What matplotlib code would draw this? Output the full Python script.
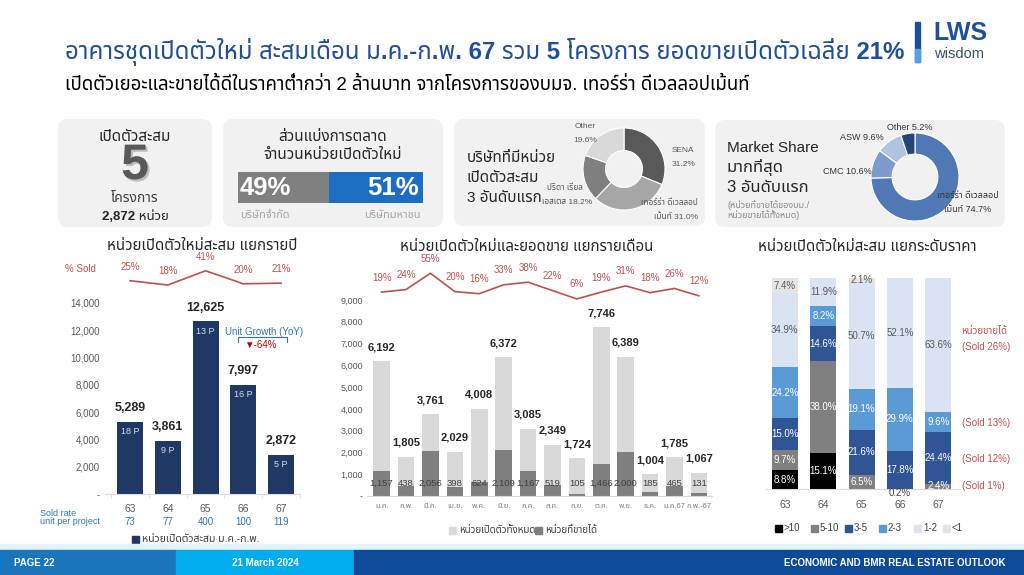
import numpy as np
import matplotlib
matplotlib.use('Agg')
import matplotlib.pyplot as plt
import matplotlib.patheffects as pe
from matplotlib import font_manager
from matplotlib.ft2font import FT2Font
from matplotlib.patches import FancyBboxPatch, Rectangle


def pick_thai_font():
    names = set()
    for f in font_manager.fontManager.ttflist:
        try:
            cmap = FT2Font(f.fname).get_charmap()
        except Exception:
            continue
        if 0x0E01 in cmap and 0x0E48 in cmap:
            names.add(f.name)
    for pref in ['Noto Sans Thai', 'Noto Sans Thai UI', 'Anuphan', 'Sarabun', 'Kanit', 'Prompt']:
        if pref in names:
            return pref
    return sorted(names)[0] if names else 'DejaVu Sans'


THAI = pick_thai_font()
FAM = ['Liberation Sans', THAI, 'DejaVu Sans']
plt.rcParams['font.family'] = FAM

# ---------------- data ----------------
years = ['63', '64', '65', '66', '67']
units_year = [5289, 3861, 12625, 7997, 2872]
projects_year = [18, 9, 13, 16, 5]
sold_pct_year = [25, 18, 41, 20, 21]
unit_per_project = [73, 77, 400, 100, 119]

months = ['ม.ค.', 'ก.พ.', 'มี.ค.', 'เม.ย.', 'พ.ค.', 'มิ.ย.', 'ก.ค.', 'ส.ค.', 'ก.ย.', 'ต.ค.',
          'พ.ย.', 'ธ.ค.', 'ม.ค.67', 'ก.พ.-67']
total_month = [6192, 1805, 3761, 2029, 4008, 6372, 3085, 2349, 1724, 7746, 6389, 1004, 1785, 1067]
sold_month = [1157, 438, 2056, 398, 624, 2109, 1167, 519, 105, 1466, 2000, 185, 465, 131]
sold_pct_month = [19, 24, 55, 20, 16, 33, 38, 22, 6, 19, 31, 18, 26, 12]

price_bands = ['>10', '5-10', '3-5', '2-3', '1-2', '<1']
share_gt10 = [8.8, 15.1, 0, 0, 0]
share_5_10 = [9.7, 38.0, 6.5, 0.2, 2.4]
share_3_5 = [15.0, 14.6, 21.6, 17.8, 24.4]
share_2_3 = [24.2, 8.2, 19.1, 29.9, 9.6]
share_1_2 = [34.9, 11.9, 50.7, 52.1, 63.6]
share_lt1 = [7.4, 0, 2.1, 0, 0]
sold_notes = ['หน่วยขายได้', '(Sold 26%)', '(Sold 13%)', '(Sold 12%)', '(Sold 1%)']

dev_names = ['SENA', 'เทอร์ร่า ดีเวลลอป', 'ปริดา เรียล', 'Other']
dev_share = [31.2, 31.0, 18.2, 19.6]
ms_names = ['เทอร์ร่า ดีเวลลอป', 'CMC', 'ASW', 'Other']
ms_share = [74.7, 10.6, 9.6, 5.2]
company_type = ['บริษัทจำกัด', 'บริษัทมหาชน']
company_share = [49, 51]

W, H = 1024, 575
fig = plt.figure(figsize=(W / 100, H / 100), dpi=100)
fig.patch.set_facecolor('white')


def px_axes(x0, y0, x1, y1):
    return fig.add_axes([x0 / W, 1 - y1 / H, (x1 - x0) / W, (y1 - y0) / H])


bg = fig.add_axes([0, 0, 1, 1])
bg.set_xlim(0, W)
bg.set_ylim(H, 0)
bg.axis('off')

BLUE_T = '#1F4E9A'
RED = '#C0504D'
TXT = '#262626'
GREY = '#595959'

# ---------------- header ----------------
bg.text(65, 52, 'อาคารชุดเปิดตัวใหม่ สะสมเดือน ม.ค.-ก.พ. 67 รวม 5 โครงการ ยอดขายเปิดตัวเฉลี่ย 21%',
        fontsize=17.3, fontweight='bold', color=BLUE_T, va='center')
bg.text(65, 85, 'เปิดตัวเยอะและขายได้ดีในราคาต่ำกว่า 2 ล้านบาท จากโครงการของบมจ. เทอร์ร่า ดีเวลลอปเม้นท์',
        fontsize=13.4, color='black', va='center')
bg.add_patch(Rectangle((915, 22), 5, 40, color=BLUE_T))
bg.add_patch(Rectangle((915, 49), 5, 13, color='#4DA3E0'))
bg.text(933, 33, 'LWS', fontsize=18, fontweight='bold', color=BLUE_T, va='center')
bg.text(934, 54, 'wisdom', fontsize=10.5, color='#3E4E63', va='center')

# ---------------- panels ----------------
for (x0, y0, x1, y1) in [(58, 119, 212, 227), (223, 119, 443, 227), (454, 119, 705, 226), (715, 120, 1005, 227)]:
    bg.add_patch(FancyBboxPatch((x0, y0), x1 - x0, y1 - y0, boxstyle='round,pad=0,rounding_size=10',
                                fc='#F1F1F1', ec='none'))

bg.text(135, 137, 'เปิดตัวสะสม', fontsize=11, color=TXT, ha='center', va='center')
bg.text(135, 166, '5', fontsize=36, fontweight='bold', color=GREY, ha='center', va='center',
        path_effects=[pe.withSimplePatchShadow(offset=(1.5, -1.5), shadow_rgbFace='#9a9a9a', alpha=0.6)])
bg.text(135, 198, 'โครงการ', fontsize=10, color='#404040', ha='center', va='center')
bg.text(135, 217, '2,872 หน่วย', fontsize=9.5, fontweight='bold', color=TXT, ha='center', va='center')

bg.text(333, 137, 'ส่วนแบ่งการตลาด', fontsize=11, color=TXT, ha='center', va='center')
bg.text(333, 155, 'จำนวนหน่วยเปิดตัวใหม่', fontsize=11, color=TXT, ha='center', va='center')
axS = px_axes(238, 172, 423, 203)
axS.barh(0, company_share[0], height=1, color='#808080')
axS.barh(0, company_share[1], left=company_share[0], height=1, color='#1B6EC2')
axS.set_xlim(0, 100)
axS.set_ylim(-0.5, 0.5)
axS.axis('off')
axS.text(1, -0.02, f'{company_share[0]}%', fontsize=18.5, fontweight='bold', color='white', va='center', ha='left')
axS.text(97.5, -0.02, f'{company_share[1]}%', fontsize=18.5, fontweight='bold', color='white', va='center',
         ha='right')
bg.text(240, 215, company_type[0], fontsize=8, color='#A6A6A6', va='center', ha='left')
bg.text(421, 215, company_type[1], fontsize=8, color='#A6A6A6', va='center', ha='right')

for i, s in enumerate(['บริษัทที่มีหน่วย', 'เปิดตัวสะสม', '3 อันดับแรก']):
    bg.text(467, 158 + i * 20, s, fontsize=11, color=TXT, va='center')
# label partly hidden behind the ring, as in the source
bg.text(583, 188, dev_names[2], fontsize=6, color=GREY, ha='right', va='center')
bg.text(592, 203, f'เอสเตส {dev_share[2]:.1f}%', fontsize=6, color=GREY, ha='right', va='center')
r3 = 41
ax3 = px_axes(624 - r3, 169 - r3, 624 + r3, 169 + r3)
ax3.pie(dev_share, colors=['#595959', '#A6A6A6', '#7F7F7F', '#D9D9D9'], startangle=90, counterclock=False,
        wedgeprops=dict(width=0.55, edgecolor='white', linewidth=0.8))
ax3.set_xlim(-1, 1)
ax3.set_ylim(-1, 1)


def px_text(ax, cx, cy, r, x, y, s, **kw):
    # place a label given in page pixels inside a donut axes
    ax.text((x - cx) / r, (cy - y) / r, s, clip_on=False, **kw)


kw3 = dict(fontsize=6, color=GREY, va='center')
px_text(ax3, 624, 169, r3, 672, 150, dev_names[0], ha='left', **kw3)
px_text(ax3, 624, 169, r3, 672, 165, f'{dev_share[0]}%', ha='left', **kw3)
px_text(ax3, 624, 169, r3, 698, 203, dev_names[1], ha='right', **kw3)
px_text(ax3, 624, 169, r3, 698, 217, f'เม้นท์ {dev_share[1]:.1f}%', ha='right', **kw3)
px_text(ax3, 624, 169, r3, 585, 126, dev_names[3], ha='center', **kw3)
px_text(ax3, 624, 169, r3, 585, 141, f'{dev_share[3]}%', ha='center', **kw3)

bg.text(727, 148, 'Market Share', fontsize=11, color=TXT, va='center')
bg.text(727, 168, 'มากที่สุด', fontsize=12, color=TXT, va='center')
bg.text(727, 187, '3 อันดับแรก', fontsize=12, color=TXT, va='center')
bg.text(727, 205, '(หน่วยที่ขายได้ของบม./', fontsize=6.5, color='#8C8C8C', va='center')
bg.text(727, 215, 'หน่วยขายได้ทั้งหมด)', fontsize=6.5, color='#8C8C8C', va='center')
r4 = 44
ax4 = px_axes(915 - r4, 177 - r4, 915 + r4, 177 + r4)
ax4.pie(ms_share, colors=['#4F78B4', '#7D9BCB', '#B0C3E0', '#264478'], startangle=90, counterclock=False,
        wedgeprops=dict(width=0.48, edgecolor='white', linewidth=0.8))
ax4.set_xlim(-1, 1)
ax4.set_ylim(-1, 1)
kw4 = dict(fontsize=6.5, color='#333333', va='center')
px_text(ax4, 915, 177, r4, 999, 195, ms_names[0], ha='right', **kw4)
px_text(ax4, 915, 177, r4, 991, 209, f'เม้นท์ {ms_share[0]}%', ha='right', **kw4)
px_text(ax4, 915, 177, r4, 872, 172, f'{ms_names[1]} {ms_share[1]}%', ha='right', **kw4)
px_text(ax4, 915, 177, r4, 884, 137, f'{ms_names[2]} {ms_share[2]}%', ha='right', **kw4)
px_text(ax4, 915, 177, r4, 910, 127, f'{ms_names[3]} {ms_share[3]}%', ha='center', **kw4)

# ---------------- left chart: yearly units ----------------
bg.text(202, 246, 'หน่วยเปิดตัวใหม่สะสม แยกรายปี', fontsize=10.8, color=TXT, ha='center', va='center')
bg.text(80, 269, '% Sold', fontsize=7, color=RED, ha='center', va='center')
xl = np.arange(len(years))
axL = px_axes(105, 302.7, 300, 494)
axL.bar(xl, units_year, width=0.69, color='#1F3864')
axL.set_xlim(-0.662, 4.50)
axL.set_ylim(0, 14000)
yt = np.arange(0, 14001, 2000)
axL.set_yticks(yt, ['-' if v == 0 else f'{v:,}' for v in yt])
axL.set_xticks(xl, years)
axL.set_xticks(np.arange(-0.5, 5, 1), minor=True)
axL.tick_params(axis='y', length=0, labelsize=7, colors=GREY, pad=4)
axL.tick_params(axis='x', which='major', length=0, labelsize=7.5, colors=GREY, pad=7)
axL.tick_params(axis='x', which='minor', length=3, color='#D9D9D9')
for s in ['top', 'right', 'left']:
    axL.spines[s].set_visible(False)
axL.spines['bottom'].set_color('#D9D9D9')
for i, v in enumerate(units_year):
    axL.annotate(f'{v:,}', (i, v), xytext=(0, 10), textcoords='offset points', ha='center', va='center',
                 fontsize=9, fontweight='bold', color=TXT)
    axL.annotate(f'{projects_year[i]} P', (i, v), xytext=(0, -7), textcoords='offset points', ha='center',
                 va='center', fontsize=6.5, color='#D6DCE5')
    axL.annotate(str(unit_per_project[i]), (i, 0), xytext=(0, -20.2), textcoords='offset points',
                 ha='center', va='center', fontsize=7, color='#2E75B6', annotation_clip=False)
bg.text(40, 513, 'Sold rate', fontsize=6.5, color='#2E75B6', va='center')
bg.text(40, 522, 'unit per project', fontsize=6.5, color='#2E75B6', va='center')
axL.text(3.55, 11870, 'Unit Growth (YoY)', fontsize=7, color='#2E75B6', ha='center', va='center')
axL.plot([2.86, 2.86, 4.16, 4.16], [11130, 11500, 11500, 11130], color='#2E75B6', lw=0.8, clip_on=False)
axL.text(3.45, 10950, '▼-64%', fontsize=7, color='#C00000', ha='center', va='center')

axLs = px_axes(105, 250, 300, 296.2)
axLs.plot(xl, sold_pct_year, color=RED, lw=1.2)
axLs.set_xlim(-0.662, 4.50)
axLs.set_ylim(0, 74.5)
axLs.axis('off')
for i, v in enumerate(sold_pct_year):
    axLs.annotate(f'{v}%', (i, v), xytext=(0, 10), textcoords='offset points', ha='center', va='center',
                  fontsize=7, color=RED, annotation_clip=False)

bg.add_patch(Rectangle((132, 535.5), 7, 7, color='#1F3864'))
bg.text(142, 539, 'หน่วยเปิดตัวสะสม ม.ค.-ก.พ.', fontsize=7.5, color='#404040', va='center')

# ---------------- middle chart: monthly ----------------
bg.text(527, 247, 'หน่วยเปิดตัวใหม่และยอดขาย แยกรายเดือน', fontsize=10.8, color=TXT, ha='center', va='center')
xm = np.arange(len(months))
axM = px_axes(367, 300, 712, 496)
axM.bar(xm, total_month, width=0.68, color='#D9D9D9')
axM.bar(xm, sold_month, width=0.68, color='#7F7F7F')
axM.set_xlim(-0.60, 13.54)
axM.set_ylim(0, 9000)
ym = np.arange(0, 9001, 1000)
axM.set_yticks(ym, ['-' if v == 0 else f'{v:,}' for v in ym])
axM.set_xticks(xm, months)
axM.tick_params(axis='y', length=0, labelsize=6.5, colors=GREY, pad=3)
axM.tick_params(axis='x', length=0, labelsize=5.5, colors='#7F7F7F', pad=5)
for s in ['top', 'right', 'left']:
    axM.spines[s].set_visible(False)
axM.spines['bottom'].set_color('#D9D9D9')
for i, v in enumerate(total_month):
    axM.annotate(f'{v:,}', (i, v), xytext=(0, 10), textcoords='offset points', ha='center', va='center',
                 fontsize=8, fontweight='bold', color=TXT)
    axM.text(i, 580, f'{sold_month[i]:,}', ha='center', va='center', fontsize=6.8, color='#404040')

axMs = px_axes(367, 250, 712, 302.1)
axMs.plot(xm, sold_pct_month, color=RED, lw=1.2)
axMs.set_xlim(-0.60, 13.54)
axMs.set_ylim(0, 99.4)
axMs.axis('off')
for i, v in enumerate(sold_pct_month):
    axMs.annotate(f'{v}%', (i, v), xytext=(0, 10.5), textcoords='offset points', ha='center', va='center',
                  fontsize=7, color=RED, annotation_clip=False)

bg.add_patch(Rectangle((449, 526.5), 7, 7, color='#D9D9D9'))
bg.text(459, 530, 'หน่วยเปิดตัวทั้งหมด', fontsize=7, color='#404040', va='center')
bg.add_patch(Rectangle((535, 526.5), 7, 7, color='#7F7F7F'))
bg.text(545, 530, 'หน่วยที่ขายได้', fontsize=7, color='#404040', va='center')

# ---------------- right chart: price bands ----------------
bg.text(867, 247, 'หน่วยเปิดตัวใหม่สะสม แยกระดับราคา', fontsize=10.8, color=TXT, ha='center', va='center')
bands = [share_gt10, share_5_10, share_3_5, share_2_3, share_1_2, share_lt1]
band_colors = ['#000000', '#808080', '#2F5597', '#5B9BD5', '#DAE3F3', '#E4E4E4']
band_text = ['white', 'white', 'white', 'white', GREY, GREY]
totals = np.sum(np.array(bands), axis=0)
xr = np.arange(len(years))
axR = px_axes(766, 277.7, 960, 489)
bottom = np.zeros(len(years))
for vals, col, tc in zip(bands, band_colors, band_text):
    h = np.array(vals) / totals * 100
    axR.bar(xr, h, bottom=bottom, width=0.68, color=col)
    for i, v in enumerate(vals):
        if v <= 0:
            continue
        if h[i] < 1:
            axR.text(i, -2, f'{v:.1f}%', ha='center', va='center', fontsize=7, color='#404040', clip_on=False)
        else:
            axR.text(i, bottom[i] + h[i] / 2, f'{v:.1f}%', ha='center', va='center', fontsize=7, color=tc)
    bottom += h
axR.set_xlim(-0.496, 4.569)
axR.set_ylim(0, 100)
axR.set_yticks([])
axR.set_xticks(xr, years)
axR.tick_params(axis='x', length=0, labelsize=7.5, colors=GREY, pad=8)
for s in ['top', 'right', 'left']:
    axR.spines[s].set_visible(False)
axR.spines['bottom'].set_color('#D9D9D9')
for note, yv in zip(sold_notes, [74.8, 67.2, 31.1, 14.1, 1.4]):
    axR.text(4.61, yv, note, fontsize=7, color=RED, ha='left', va='center', clip_on=False)

for name, col, x in zip(price_bands, band_colors, [778, 814, 848, 882, 917, 946]):
    bg.add_patch(Rectangle((x - 3.5, 524.5), 7, 7, color=col))
    bg.text(x + 6, 528, name, fontsize=7, color='#404040', va='center')

# ---------------- footer ----------------
bg.add_patch(Rectangle((0, 544), W, 6, color='#E3F5FB'))
bg.add_patch(Rectangle((0, 550), 176, 25, color='#1B75BC'))
bg.add_patch(Rectangle((176, 550), 178, 25, color='#00AEEF'))
bg.add_patch(Rectangle((354, 550), W - 354, 25, color='#0D4A97'))
bg.text(14, 563, 'PAGE 22', fontsize=7, fontweight='bold', color='white', va='center')
bg.text(265, 563, '21 March 2024', fontsize=7, fontweight='bold', color='white', va='center', ha='center')
bg.text(1006, 563, 'ECONOMIC AND BMR REAL ESTATE OUTLOOK', fontsize=7, fontweight='bold', color='white',
        va='center', ha='right')

fig.savefig('out.png', dpi=100)
